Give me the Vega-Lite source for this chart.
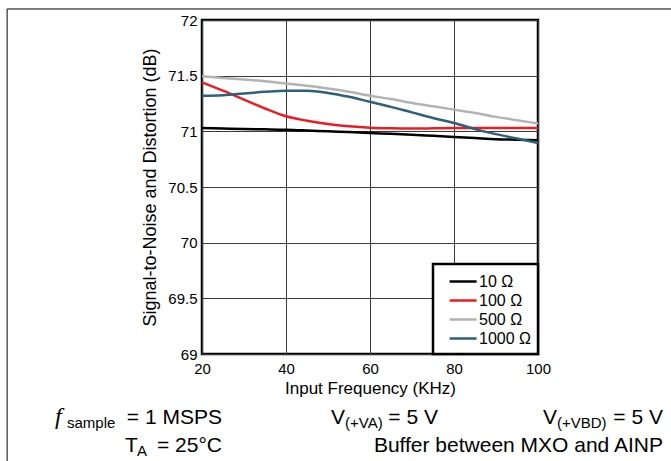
{
  "$schema": "https://vega.github.io/schema/vega-lite/v6.json",
  "width": 336,
  "height": 334,
  "autosize": {"type": "none"},
  "padding": {"left": 202, "top": 20, "right": 133, "bottom": 107},
  "background": "white",
  "config": {
    "font": "Liberation Sans",
    "view": {"stroke": "black", "strokeWidth": 2.5},
    "axis": {"labelFont": "Liberation Sans", "titleFont": "Liberation Sans", "labelColor": "black", "titleColor": "black", "titleFontWeight": "normal"},
    "legend": {"labelFont": "Liberation Sans", "strokeWidth": 2.5}
  },
  "datasets": {
    "curves": [
      {"freq": 20, "snr": 71.03, "r": "10 Ω"},
      {"freq": 25, "snr": 71.025, "r": "10 Ω"},
      {"freq": 30, "snr": 71.02, "r": "10 Ω"},
      {"freq": 35, "snr": 71.018, "r": "10 Ω"},
      {"freq": 40, "snr": 71.015, "r": "10 Ω"},
      {"freq": 45, "snr": 71.008, "r": "10 Ω"},
      {"freq": 50, "snr": 71.0, "r": "10 Ω"},
      {"freq": 55, "snr": 70.993, "r": "10 Ω"},
      {"freq": 60, "snr": 70.985, "r": "10 Ω"},
      {"freq": 65, "snr": 70.978, "r": "10 Ω"},
      {"freq": 70, "snr": 70.97, "r": "10 Ω"},
      {"freq": 75, "snr": 70.96, "r": "10 Ω"},
      {"freq": 80, "snr": 70.95, "r": "10 Ω"},
      {"freq": 85, "snr": 70.94, "r": "10 Ω"},
      {"freq": 90, "snr": 70.93, "r": "10 Ω"},
      {"freq": 95, "snr": 70.925, "r": "10 Ω"},
      {"freq": 100, "snr": 70.92, "r": "10 Ω"},
      {"freq": 20, "snr": 71.44, "r": "100 Ω"},
      {"freq": 25, "snr": 71.365, "r": "100 Ω"},
      {"freq": 30, "snr": 71.285, "r": "100 Ω"},
      {"freq": 35, "snr": 71.205, "r": "100 Ω"},
      {"freq": 40, "snr": 71.135, "r": "100 Ω"},
      {"freq": 45, "snr": 71.095, "r": "100 Ω"},
      {"freq": 50, "snr": 71.065, "r": "100 Ω"},
      {"freq": 55, "snr": 71.045, "r": "100 Ω"},
      {"freq": 60, "snr": 71.032, "r": "100 Ω"},
      {"freq": 65, "snr": 71.027, "r": "100 Ω"},
      {"freq": 70, "snr": 71.025, "r": "100 Ω"},
      {"freq": 75, "snr": 71.027, "r": "100 Ω"},
      {"freq": 80, "snr": 71.03, "r": "100 Ω"},
      {"freq": 85, "snr": 71.03, "r": "100 Ω"},
      {"freq": 90, "snr": 71.03, "r": "100 Ω"},
      {"freq": 95, "snr": 71.03, "r": "100 Ω"},
      {"freq": 100, "snr": 71.03, "r": "100 Ω"},
      {"freq": 20, "snr": 71.495, "r": "500 Ω"},
      {"freq": 25, "snr": 71.48, "r": "500 Ω"},
      {"freq": 30, "snr": 71.465, "r": "500 Ω"},
      {"freq": 35, "snr": 71.45, "r": "500 Ω"},
      {"freq": 40, "snr": 71.43, "r": "500 Ω"},
      {"freq": 45, "snr": 71.41, "r": "500 Ω"},
      {"freq": 50, "snr": 71.385, "r": "500 Ω"},
      {"freq": 55, "snr": 71.355, "r": "500 Ω"},
      {"freq": 60, "snr": 71.32, "r": "500 Ω"},
      {"freq": 65, "snr": 71.29, "r": "500 Ω"},
      {"freq": 70, "snr": 71.255, "r": "500 Ω"},
      {"freq": 75, "snr": 71.225, "r": "500 Ω"},
      {"freq": 80, "snr": 71.195, "r": "500 Ω"},
      {"freq": 85, "snr": 71.165, "r": "500 Ω"},
      {"freq": 90, "snr": 71.13, "r": "500 Ω"},
      {"freq": 95, "snr": 71.1, "r": "500 Ω"},
      {"freq": 100, "snr": 71.07, "r": "500 Ω"},
      {"freq": 20, "snr": 71.32, "r": "1000 Ω"},
      {"freq": 25, "snr": 71.325, "r": "1000 Ω"},
      {"freq": 30, "snr": 71.34, "r": "1000 Ω"},
      {"freq": 35, "snr": 71.355, "r": "1000 Ω"},
      {"freq": 40, "snr": 71.365, "r": "1000 Ω"},
      {"freq": 45, "snr": 71.365, "r": "1000 Ω"},
      {"freq": 50, "snr": 71.345, "r": "1000 Ω"},
      {"freq": 55, "snr": 71.31, "r": "1000 Ω"},
      {"freq": 60, "snr": 71.265, "r": "1000 Ω"},
      {"freq": 65, "snr": 71.22, "r": "1000 Ω"},
      {"freq": 70, "snr": 71.17, "r": "1000 Ω"},
      {"freq": 75, "snr": 71.12, "r": "1000 Ω"},
      {"freq": 80, "snr": 71.075, "r": "1000 Ω"},
      {"freq": 85, "snr": 71.02, "r": "1000 Ω"},
      {"freq": 90, "snr": 70.975, "r": "1000 Ω"},
      {"freq": 95, "snr": 70.935, "r": "1000 Ω"},
      {"freq": 100, "snr": 70.895, "r": "1000 Ω"}
    ],
    "mainText": [
      {"x": 24.76, "y": 68.37, "t": "= 1 MSPS"},
      {"x": 24.76, "y": 68.118, "t": "= 25°C"},
      {"x": 76.19, "y": 68.37, "t": "= 5 V"},
      {"x": 129.76, "y": 68.37, "t": "= 5 V"},
      {"x": 129.76, "y": 68.118, "t": "Buffer between MXO and AINP"}
    ],
    "symText": [
      {"x": 1.67, "y": 68.118, "t": "T"},
      {"x": 50.71, "y": 68.37, "t": "V"},
      {"x": 101.19, "y": 68.37, "t": "V"}
    ],
    "subText": [
      {"x": -12.14, "y": 68.334, "t": "sample"},
      {"x": 4.52, "y": 68.082, "t": "A"},
      {"x": 54.05, "y": 68.334, "t": "(+VA)"},
      {"x": 104.52, "y": 68.334, "t": "(+VBD)"}
    ],
    "italicText": [
      {"x": -15.0, "y": 68.37, "t": "f"}
    ]
  },
  "layer": [
    {
      "data": {"name": "curves"},
      "mark": {"type": "line", "strokeWidth": 2.5, "interpolate": "monotone"},
      "encoding": {
        "x": {
          "field": "freq", "type": "quantitative",
          "scale": {"domain": [20, 100], "nice": false, "zero": false},
          "axis": {
            "values": [20, 40, 60, 80, 100], "title": "Input Frequency (KHz)",
            "grid": true, "gridColor": "#3a3a3a", "gridWidth": 1, "gridOpacity": 1,
            "domain": false, "ticks": false, "labelPadding": 7, "labelFontSize": 15,
            "titleFontSize": 17, "titlePadding": 4, "labelFlush": false
          }
        },
        "y": {
          "field": "snr", "type": "quantitative",
          "scale": {"domain": [69, 72], "nice": false, "zero": false},
          "axis": {
            "values": [69, 69.5, 70, 70.5, 71, 71.5, 72], "format": "~g", "title": "Signal-to-Noise and Distortion (dB)",
            "grid": true, "gridColor": "#3a3a3a", "gridWidth": 1, "gridOpacity": 1,
            "domain": false, "ticks": false, "labelPadding": 5, "labelFontSize": 15,
            "titleFontSize": 18, "titlePadding": 8, "labelFlush": false
          }
        },
        "color": {
          "field": "r", "type": "nominal",
          "scale": {"domain": ["10 Ω", "100 Ω", "500 Ω", "1000 Ω"], "range": ["#000000", "#ed1c24", "#b3b3b3", "#2e5f7c"]},
          "legend": {
            "title": null, "orient": "bottom-right", "offset": 0,
            "strokeColor": "black", "fillColor": "white",
            "padding": 7, "symbolType": "M-0.1,0H2.9", "symbolStrokeWidth": 2.5,
            "symbolSize": 324, "labelFontSize": 16, "rowPadding": 0, "labelOffset": 18
          }
        }
      }
    },
    {
      "data": {"values": [{}]},
      "mark": {"type": "rule", "clip": false, "color": "black", "strokeWidth": 1},
      "encoding": {"x": {"datum": -26.4}, "x2": {"datum": 131.8}, "y": {"datum": 72.099}}
    },
    {
      "data": {"values": [{}]},
      "mark": {"type": "rule", "clip": false, "color": "black", "strokeWidth": 1},
      "encoding": {"x": {"datum": -26.4}, "y": {"datum": 72.099}, "y2": {"datum": 67.8}}
    },
    {
      "data": {"name": "mainText"},
      "mark": {"type": "text", "clip": false, "align": "right", "baseline": "alphabetic", "fontSize": 21, "font": "Liberation Sans", "color": "black"},
      "encoding": {"x": {"field": "x", "type": "quantitative"}, "y": {"field": "y", "type": "quantitative"}, "text": {"field": "t"}}
    },
    {
      "data": {"name": "symText"},
      "mark": {"type": "text", "clip": false, "align": "left", "baseline": "alphabetic", "fontSize": 21, "font": "Liberation Sans", "color": "black"},
      "encoding": {"x": {"field": "x", "type": "quantitative"}, "y": {"field": "y", "type": "quantitative"}, "text": {"field": "t"}}
    },
    {
      "data": {"name": "subText"},
      "mark": {"type": "text", "clip": false, "align": "left", "baseline": "alphabetic", "fontSize": 15, "font": "Liberation Sans", "color": "black"},
      "encoding": {"x": {"field": "x", "type": "quantitative"}, "y": {"field": "y", "type": "quantitative"}, "text": {"field": "t"}}
    },
    {
      "data": {"name": "italicText"},
      "mark": {"type": "text", "clip": false, "align": "left", "baseline": "alphabetic", "fontSize": 24, "font": "Liberation Serif", "fontStyle": "italic", "color": "black"},
      "encoding": {"x": {"field": "x", "type": "quantitative"}, "y": {"field": "y", "type": "quantitative"}, "text": {"field": "t"}}
    }
  ]
}
